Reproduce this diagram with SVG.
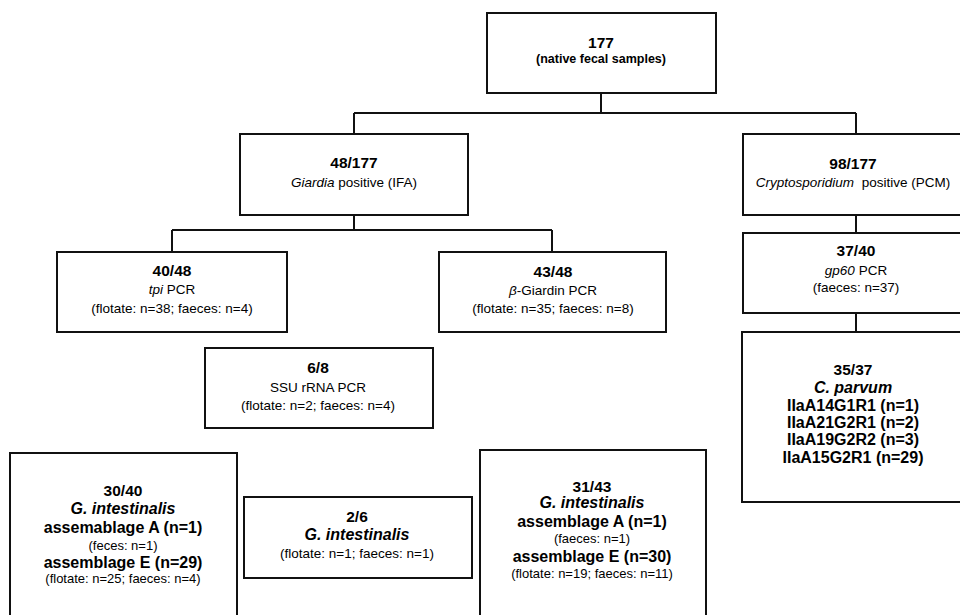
<svg xmlns="http://www.w3.org/2000/svg" width="960" height="615" viewBox="0 0 960 615">
<style>
.box{fill:#fff;stroke:#111;stroke-width:2}
.ln{fill:none;stroke:#111;stroke-width:2}
text{font-family:"Liberation Sans",Arial,sans-serif;fill:#000;text-anchor:middle}
.h{font-weight:bold;font-size:15.5px}
.r{font-size:13.5px}
.b{font-weight:bold;font-size:16px}
.bi{font-weight:bold;font-style:italic;font-size:16px}
.s{font-size:13px}
.i{font-style:italic}
</style>
<rect width="960" height="615" fill="#fff"/>
<g id="connectors">
<path class="ln" d="M601 93V113M354 113H856M354 113V134M856 113V134"/>
<path class="ln" d="M354 215V230M172 230H552M172 230V252M552 230V252"/>
<path class="ln" d="M856 215V233M856 313V332"/>
</g>
<g id="n177">
<rect class="box" x="487" y="13" width="229" height="80"/>
<text class="h" x="601" y="48">177</text>
<text x="601" y="63" style="font-weight:bold;font-size:12.5px">(native fecal samples)</text>
</g>
<g id="giardia">
<rect class="box" x="240" y="134" width="228" height="81"/>
<text class="h" x="354" y="168">48/177</text>
<text class="r" x="354" y="187"><tspan class="i">Giardia</tspan> positive (IFA)</text>
</g>
<g id="crypto">
<rect class="box" x="743" y="134" width="222" height="81"/>
<text class="h" x="853" y="169">98/177</text>
<text class="r" x="853" y="187"><tspan class="i">Cryptosporidium</tspan><tspan dx="4"> positive (PCM)</tspan></text>
</g>
<g id="tpi">
<rect class="box" x="57" y="252" width="230" height="80"/>
<text class="h" x="172" y="276">40/48</text>
<text class="r" x="172" y="294"><tspan class="i">tpi</tspan> PCR</text>
<text class="r" x="172" y="313">(flotate: n=38; faeces: n=4)</text>
</g>
<g id="bgiardin">
<rect class="box" x="439" y="252" width="227" height="80"/>
<text class="h" x="553" y="277">43/48</text>
<text class="r" x="553" y="295"><tspan class="i">β</tspan>-Giardin PCR</text>
<text class="r" x="553" y="313">(flotate: n=35; faeces: n=8)</text>
</g>
<g id="gp60">
<rect class="box" x="743" y="233" width="222" height="80"/>
<text class="h" x="856" y="256">37/40</text>
<text class="r" x="856" y="275"><tspan class="i">gp60</tspan> PCR</text>
<text class="r" x="856" y="292">(faeces: n=37)</text>
</g>
<g id="ssu">
<rect class="box" x="205" y="348" width="228" height="80"/>
<text class="h" x="318" y="373">6/8</text>
<text class="r" x="318" y="392">SSU rRNA PCR</text>
<text class="r" x="318" y="410">(flotate: n=2; faeces: n=4)</text>
</g>
<g id="cparvum">
<rect class="box" x="742" y="332" width="223" height="170"/>
<text class="h" x="853" y="375">35/37</text>
<text class="bi" x="853" y="393">C. parvum</text>
<text class="b" x="853" y="411">IIaA14G1R1 (n=1)</text>
<text class="b" x="853" y="428">IIaA21G2R1 (n=2)</text>
<text class="b" x="853" y="445">IIaA19G2R2 (n=3)</text>
<text class="b" x="853" y="463">IIaA15G2R1 (n=29)</text>
</g>
<g id="tpiresult">
<rect class="box" x="10" y="453" width="227" height="170"/>
<text class="h" x="123" y="496">30/40</text>
<text class="bi" x="123" y="514">G. intestinalis</text>
<text class="b" x="123" y="533">assemablage A (n=1)</text>
<text class="s" x="123" y="550">(feces: n=1)</text>
<text class="b" x="123" y="568">assemblage E (n=29)</text>
<text class="s" x="123" y="583">(flotate: n=25; faeces: n=4)</text>
</g>
<g id="ssuresult">
<rect class="box" x="244" y="497" width="228" height="81"/>
<text class="h" x="357" y="522">2/6</text>
<text class="bi" x="357" y="540">G. intestinalis</text>
<text class="r" x="357" y="558">(flotate: n=1; faeces: n=1)</text>
</g>
<g id="bgresult">
<rect class="box" x="480" y="450" width="226" height="173"/>
<text class="h" x="592" y="492">31/43</text>
<text class="bi" x="592" y="508">G. intestinalis</text>
<text class="b" x="592" y="527">assemblage A (n=1)</text>
<text class="s" x="592" y="543">(faeces: n=1)</text>
<text class="b" x="592" y="562">assemblage E (n=30)</text>
<text class="s" x="592" y="578">(flotate: n=19; faeces: n=11)</text>
</g>
</svg>
